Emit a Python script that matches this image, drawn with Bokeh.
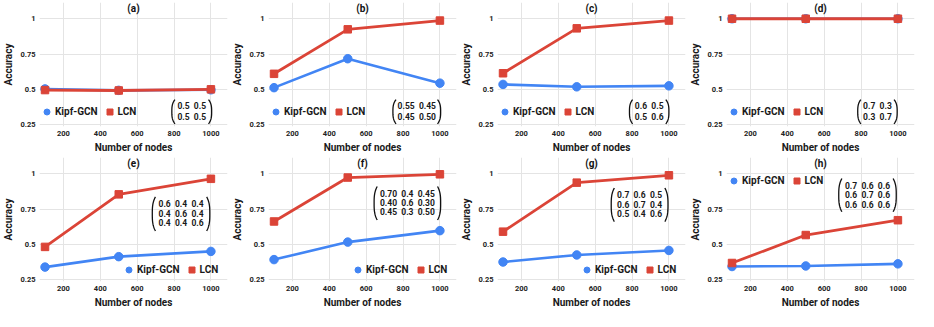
from bokeh.plotting import figure
from bokeh.layouts import gridplot
from bokeh.models import Legend, LegendItem, Label, FixedTicker, Range1d, NumeralTickFormatter
from bokeh.core.properties import value
from bokeh.embed import file_html
from bokeh.resources import INLINE

# ---------------- data ----------------
nodes = [100, 500, 1000]
panel_labels = ["(a)", "(b)", "(c)", "(d)", "(e)", "(f)", "(g)", "(h)"]
series_names = ["Kipf-GCN", "LCN"]

kipf_a = [0.503, 0.493, 0.497]
lcn_a = [0.495, 0.492, 0.500]
kipf_b = [0.512, 0.717, 0.544]
lcn_b = [0.610, 0.925, 0.987]
kipf_c = [0.535, 0.518, 0.525]
lcn_c = [0.614, 0.932, 0.987]
kipf_d = [1.0, 1.0, 1.0]
lcn_d = [1.0, 1.0, 1.0]
kipf_e = [0.339, 0.413, 0.450]
lcn_e = [0.482, 0.854, 0.964]
kipf_f = [0.392, 0.516, 0.597]
lcn_f = [0.662, 0.973, 0.996]
kipf_g = [0.375, 0.425, 0.457]
lcn_g = [0.590, 0.937, 0.989]
kipf_h = [0.343, 0.347, 0.362]
lcn_h = [0.368, 0.566, 0.671]

mat_a = [["0.5", "0.5"], ["0.5", "0.5"]]
mat_b = [["0.55", "0.45"], ["0.45", "0.50"]]
mat_c = [["0.6", "0.5"], ["0.5", "0.6"]]
mat_d = [["0.7", "0.3"], ["0.3", "0.7"]]
mat_e = [["0.6", "0.4", "0.4"], ["0.4", "0.6", "0.4"], ["0.4", "0.4", "0.6"]]
mat_f = [["0.70", "0.4", "0.45"], ["0.40", "0.6", "0.30"], ["0.45", "0.3", "0.50"]]
mat_g = [["0.7", "0.6", "0.5"], ["0.6", "0.7", "0.4"], ["0.5", "0.4", "0.6"]]
mat_h = [["0.7", "0.6", "0.6"], ["0.6", "0.7", "0.6"], ["0.6", "0.6", "0.6"]]

x_ticks = [200, 400, 600, 800, 1000]
y_ticks = [0.25, 0.5, 0.75, 1.0]

kipf_all = [kipf_a, kipf_b, kipf_c, kipf_d, kipf_e, kipf_f, kipf_g, kipf_h]
lcn_all = [lcn_a, lcn_b, lcn_c, lcn_d, lcn_e, lcn_f, lcn_g, lcn_h]
mats = [mat_a, mat_b, mat_c, mat_d, mat_e, mat_f, mat_g, mat_h]

# ---------------- layout (positions only) ----------------
# matrix bracket box: (x_left, x_right, y_bottom, y_top) in data units
mat_boxes = [
    (788, 1004, 0.256, 0.428), (745, 1004, 0.256, 0.428),
    (786, 1000, 0.256, 0.428), (782, 996, 0.256, 0.428),
    (682, 994, 0.595, 0.836), (643, 1004, 0.672, 0.910),
    (687, 995, 0.661, 0.899), (679, 991, 0.731, 0.966),
]
mat_rows = [
    (0.384, 0.307), (0.384, 0.307), (0.384, 0.307), (0.384, 0.307),
    (0.784, 0.718, 0.651), (0.857, 0.792, 0.727), (0.847, 0.782, 0.716), (0.914, 0.849, 0.781),
]
legend_locs = [(0, 7), (0, 7), (0, 7), (0, 7), (82, 4), (82, 4), (82, 4), (0, 93)]

BLUE = "#4285F4"
RED = "#DB4437"
FONT = "Roboto"
XR = (70, 1090)
YR = (0.237, 1.115)
SEP = "\u00a0\u00a0"


def bracket(p, xl, xr, yb, yt, d=17):
    n = 30
    ys, xs_l, xs_r = [], [], []
    for i in range(n + 1):
        t = i / n
        s = abs(2 * t - 1) ** 3
        ys.append(yb + t * (yt - yb))
        xs_l.append(xl + d * s)
        xs_r.append(xr - d * s)
    p.line(xs_l, ys, line_color="#111111", line_width=1.3)
    p.line(xs_r, ys, line_color="#111111", line_width=1.3)


def make_panel(i):
    p = figure(width=229, height=155, x_range=Range1d(*XR), y_range=Range1d(*YR),
               output_backend="svg", toolbar_location=None,
               min_border_left=38, min_border_right=2, min_border_top=2, min_border_bottom=26)
    p.outline_line_color = None
    p.background_fill_color = "white"

    for ax in (p.xaxis[0], p.yaxis[0]):
        ax.axis_line_color = None
        ax.major_tick_line_color = None
        ax.minor_tick_line_color = None
        ax.major_tick_out = 0
        ax.major_tick_in = 0
        ax.major_label_text_font = FONT
        ax.major_label_text_font_size = "7.5px"
        ax.major_label_text_font_style = "bold"
        ax.major_label_text_color = "#222222"
        ax.major_label_standoff = 4
        ax.axis_label_text_font = FONT
        ax.axis_label_text_font_size = "10px"
        ax.axis_label_text_font_style = "bold"
        ax.axis_label_text_color = "#1a1a1a"
        ax.axis_label_standoff = 3

    p.xaxis.ticker = FixedTicker(ticks=x_ticks)
    p.yaxis.ticker = FixedTicker(ticks=y_ticks)
    p.yaxis.formatter = NumeralTickFormatter(format="0.[00]")
    p.xaxis.axis_label = "Number of nodes"
    p.yaxis.axis_label = "Accuracy"
    p.xgrid.grid_line_color = "#e4e4e4"
    p.ygrid.grid_line_color = "#e4e4e4"

    # small markers used as legend glyphs (hidden beneath the plotted markers)
    kc = p.scatter(nodes, kipf_all[i], marker="circle", size=6.5, fill_color=BLUE, line_color=BLUE)
    lc = p.scatter(nodes, lcn_all[i], marker="square", size=5.5, fill_color=RED, line_color=RED)

    p.line(nodes, kipf_all[i], line_color=BLUE, line_width=2.6)
    p.scatter(nodes, kipf_all[i], marker="circle", size=8.5, fill_color=BLUE, line_color=BLUE)
    p.line(nodes, lcn_all[i], line_color=RED, line_width=2.8)
    p.scatter(nodes, lcn_all[i], marker="square", size=7.5, fill_color=RED, line_color=RED)

    # matrix annotation
    xl, xr, yb, yt = mat_boxes[i]
    rows = [SEP.join(r) for r in mats[i]]
    ys = list(mat_rows[i])
    p.text([(xl + xr) / 2] * len(rows), ys, text=rows, text_align="center", text_baseline="middle",
           text_font=value(FONT), text_font_size="8.5px", text_font_style="bold", text_color="#1a1a1a")
    bracket(p, xl, xr, yb, yt)

    # title inside frame
    p.add_layout(Label(x=(XR[0] + XR[1]) / 2, y=1.076, text=panel_labels[i], text_align="center",
                       text_baseline="middle", text_font=FONT, text_font_size="10px",
                       text_font_style="bold", text_color="#111111"))

    legend = Legend(items=[LegendItem(label=series_names[0], renderers=[kc]),
                           LegendItem(label=series_names[1], renderers=[lc])],
                    orientation="horizontal", location=legend_locs[i],
                    glyph_width=15, glyph_height=15, label_standoff=1, spacing=4,
                    padding=0, margin=0, label_height=15,
                    label_text_font=FONT, label_text_font_size="10px",
                    label_text_font_style="bold", label_text_color="#1a1a1a",
                    background_fill_alpha=0, border_line_color=None)
    p.add_layout(legend)
    return p


panels = [make_panel(i) for i in range(8)]
grid = gridplot([panels[:4], panels[4:]], toolbar_location=None)

open("out.html", "w").write(file_html(grid, INLINE))
